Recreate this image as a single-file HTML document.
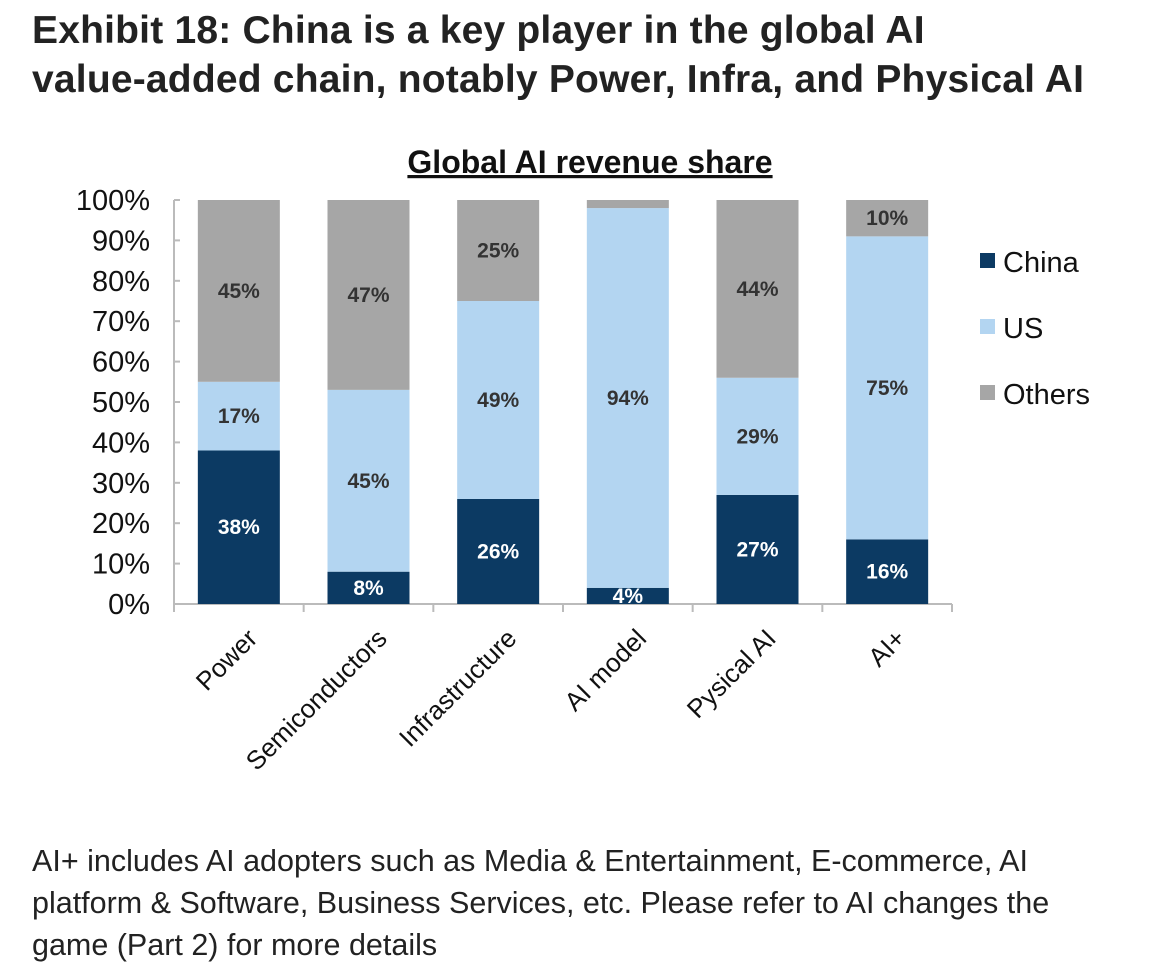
<!DOCTYPE html>
<html><head><meta charset="utf-8"><style>
body{margin:0;width:1170px;height:969px;background:#fff;font-family:"Liberation Sans",sans-serif;overflow:hidden;position:relative}
.title{position:absolute;left:32px;top:6px;font-size:39px;font-weight:bold;line-height:49px;color:#222;letter-spacing:0.2px}
.foot{position:absolute;left:32px;top:840px;font-size:30.5px;line-height:42px;color:#222}
svg{position:absolute;left:0;top:0}
</style></head><body>
<div class="title">Exhibit 18: China is a key player in the global AI<br>value-added chain, notably Power, Infra, and Physical AI</div>
<svg id="chart" width="1170" height="969"></svg>
<div class="foot">AI+ includes AI adopters such as Media &amp; Entertainment, E-commerce, AI<br>platform &amp; Software, Business Services, etc. Please refer to AI changes the<br>game (Part 2) for more details</div>
<script>
const categories=["Power","Semiconductors","Infrastructure","AI model","Pysical AI","AI+"];
const china=[38,8,26,4,27,16];
const us=[17,45,49,94,29,75];
const others=[45,47,25,2,44,10];
const yTicks=[0,10,20,30,40,50,60,70,80,90,100];
const NS="http://www.w3.org/2000/svg";
const svg=document.getElementById('chart');
const x0=174,plotW=778,y0=604,yTop=200;
const band=plotW/categories.length,bw=82;
const y=v=>y0-(Math.min(v,100)/100)*(y0-yTop);
const xc=i=>x0+band*(i+0.5);
function mk(t,a){const e=document.createElementNS(NS,t);for(const k in a)e.setAttribute(k,a[k]);svg.appendChild(e);return e;}
let t=mk('text',{x:590,y:173,'text-anchor':'middle','font-size':32,'font-weight':'bold',fill:'#111','text-decoration':'underline'});
t.textContent='Global AI revenue share';


mk('line',{x1:x0,y1:yTop,x2:x0,y2:y0,stroke:'#bbb','stroke-width':2});
mk('line',{x1:x0,y1:y0,x2:x0+plotW,y2:y0,stroke:'#bbb','stroke-width':2});
yTicks.forEach(v=>{
 mk('line',{x1:x0,y1:y(v),x2:x0+6,y2:y(v),stroke:'#bbb','stroke-width':2});
 const l=mk('text',{x:150,y:y(v)+10,'text-anchor':'end','font-size':29,fill:'#111'});
 l.textContent=v+'%';
 
 
});
for(let i=0;i<=categories.length;i++)mk('line',{x1:x0+band*i,y1:y0,x2:x0+band*i,y2:y0+8,stroke:'#bbb','stroke-width':2});
const series=[[china,'#0c3a63','#fff','china'],[us,'#b3d5f1','#333','us'],[others,'#a6a6a6','#333','others']];
categories.forEach((c,i)=>{
 let base=0;
 series.forEach(([arr,col,tc,nm])=>{
  const v=arr[i];
  const r=mk('rect',{x:xc(i)-bw/2,y:y(base+v),width:bw,height:Math.max(0,y(base)-y(base+v)),fill:col});
  
  
  if(v>=3){
   const lb=mk('text',{x:xc(i),y:(y(base)+y(base+v))/2+7,'text-anchor':'middle','font-size':21,'font-weight':'bold',fill:tc});
   lb.textContent=v+'%';
   
   
  }
  base+=v;
 });
 const cl=mk('text',{x:xc(i)+20,y:y0+36,'text-anchor':'end','font-size':26,fill:'#111',transform:`rotate(-45 ${xc(i)+20} ${y0+36})`});
 cl.textContent=c;
 
 
});
series.forEach(([a,col,tc,nm],k)=>{
 const ly=262+k*66;
 mk('rect',{x:980,y:ly-9,width:15,height:15,fill:col});
 const lt=mk('text',{x:1003,y:ly+10,'font-size':29,fill:'#111'});
 lt.textContent=['China','US','Others'][k];
 
 
});
</script>
</body></html>
